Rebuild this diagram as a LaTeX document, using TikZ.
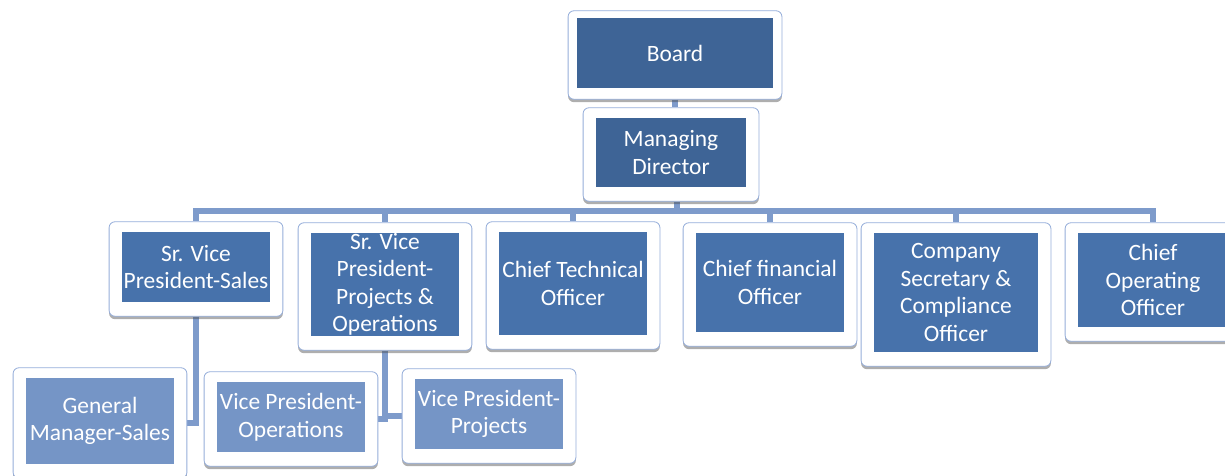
\documentclass[tikz,border=0pt]{standalone}
\usepackage{fontspec}
\setmainfont{Carlito}
\usetikzlibrary{fit,shadows,positioning}
\definecolor{topblue}{RGB}{62,100,150}
\definecolor{midblue}{RGB}{71,114,171}
\definecolor{lowblue}{RGB}{117,149,198}
\definecolor{lineblue}{RGB}{126,155,203}
\definecolor{edgeblue}{RGB}{150,174,218}
\pgfdeclarelayer{bg}
\pgfdeclarelayer{frames}
\pgfsetlayers{bg,frames,main}

\begin{document}
\begin{tikzpicture}[x=0.03cm,y=-0.03cm,
	card/.style={rectangle,inner sep=0pt,align=center,text=white,
		font=\fontsize{20}{23.5}\selectfont},
	topcard/.style={card,fill=topblue},
	midcard/.style={card,fill=midblue},
	lowcard/.style={card,fill=lowblue},
	sz/.style 2 args={minimum width=#1cm,minimum height=#2cm},
	frame/.style={rectangle,rounded corners=5pt,fill=white,draw=edgeblue,
		line width=0.7pt,inner xsep=0.38cm,inner ysep=0.36cm,yshift=-0.06cm,
		drop shadow={shadow xshift=0pt,shadow yshift=-2.5pt,opacity=0.45,fill=black!70}},
	conn/.style={draw=lineblue,line width=5pt}]
	\useasboundingbox (0,0) rectangle (1225,476);
	% top of the chart
	\node[topcard,sz={5.88}{2.1}] (board) at (675,53) {Board};
	\node[topcard,sz={4.5}{2.07}] (md) at (671,152.5) {Managing\\Director};
	% second row
	\node[midcard,sz={4.44}{2.1}] (svps) at (196,267) {Sr. Vice\\President-Sales};
	\node[midcard,sz={4.44}{3.09}] (svpp) at (385,284.5) {Sr. Vice\\President-\\Projects \&\\Operations};
	\node[midcard,sz={4.44}{3.09}] (cto) at (573,283.5) {Chief Technical\\Officer};
	\node[midcard,sz={4.44}{2.97}] (cfo) at (770,282.5) {Chief financial\\Officer};
	\node[midcard,sz={4.92}{3.57}] (cs) at (956,292.5) {Company\\Secretary \&\\Compliance\\Officer};
	\node[midcard,sz={4.5}{2.82}] (coo) at (1153,280) {Chief\\Operating\\Officer};
	% third row
	\node[lowcard,sz={4.44}{2.58}] (gms) at (100,421) {General\\Manager-Sales};
	\node[lowcard,sz={4.44}{2.1}] (vpo) at (291,417) {Vice President-\\Operations};
	\node[lowcard,sz={4.44}{2.1}] (vpp) at (489,414) {Vice President-\\Projects};

	\begin{pgfonlayer}{frames}
		\node[frame,fit=(board),inner xsep=0.26cm,inner ysep=0.27cm] (boardf) {};
		\foreach \n in {md,svps,svpp,cto,cfo,cs,coo,gms,vpo,vpp}
			\node[frame,fit=(\n)] (\n f) {};
	\end{pgfonlayer}

	\begin{pgfonlayer}{bg}
		\coordinate (bus) at (677,211);
		\draw[conn] (boardf.south) -- (boardf.south |- mdf.north);
		\draw[conn] (mdf.south -| bus) -- (bus);
		\foreach \n in {svps,svpp,cto,cfo,cs,coo}
			\draw[conn] (bus) -| (\n f.north);
		\draw[conn] (svpsf.south) |- (gmsf.east);
		\draw[conn] (svppf.south) |- (vpof.east);
		\draw[conn] (svppf.south) |- (vppf.west);
	\end{pgfonlayer}
\end{tikzpicture}
\end{document}
